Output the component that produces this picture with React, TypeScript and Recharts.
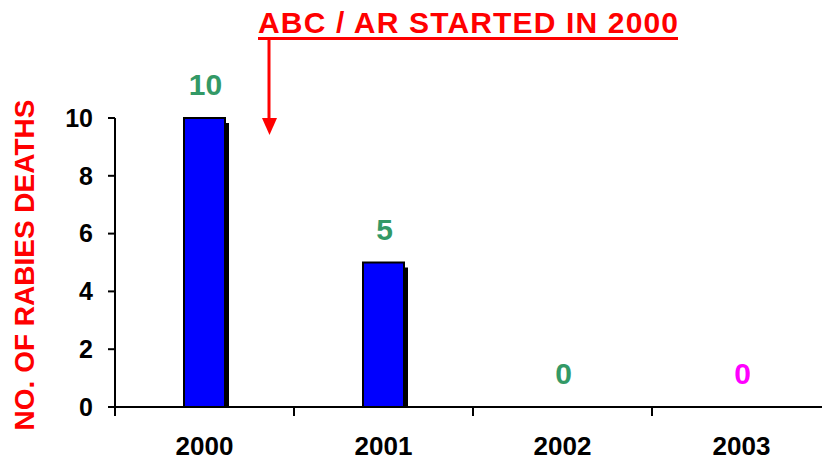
import { BarChart, Bar, XAxis, YAxis, LabelList } from "recharts";

const years = ["2000", "2001", "2002", "2003"];
const deaths = [10, 5, 0, 0];
const yTicks = [0, 2, 4, 6, 8, 10];
const labelColors = ["#339966", "#339966", "#339966", "#ff00ff"];

const data = years.map((y, i) => ({ year: y, deaths: deaths[i] }));

const FONT = "'Liberation Sans', Arial, sans-serif";
const CHART_W = 840;
const CHART_H = 464;
const MARGIN = { top: 118, right: 9, left: 0, bottom: 27 };
const Y_AXIS_W = 115;
const BAND = (CHART_W - MARGIN.left - MARGIN.right - Y_AXIS_W) / years.length;

function ShadowBar(props: any) {
  const { x, y, width, height } = props;
  if (!height || height <= 0) return null;
  return (
    <g>
      <rect x={x + 4} y={y + 5} width={width} height={height - 5} fill="#000" />
      <rect x={x} y={y} width={width} height={height} fill="#0000ff" stroke="#000" strokeWidth={2} />
    </g>
  );
}

function XTick({ x, y, payload }: any) {
  const left = x - BAND / 2;
  return (
    <g>
      <line x1={left} y1={y} x2={left} y2={y + 9} stroke="#000" strokeWidth={2} />
      <text x={x} y={y + 48} textAnchor="middle" fontFamily={FONT} fontWeight="bold" fontSize={26} fill="#000">
        {payload.value}
      </text>
    </g>
  );
}

function ValueLabel({ x, y, width, value, index }: any) {
  return (
    <text
      x={x + width / 2 + 1}
      y={y - 23}
      textAnchor="middle"
      fontFamily={FONT}
      fontWeight="bold"
      fontSize={30}
      fill={labelColors[index]}
    >
      {value}
    </text>
  );
}

export default function App() {
  return (
    <div style={{ position: "absolute", left: 0, top: 0, width: 822, height: 464, overflow: "hidden", background: "#fff" }}>
      <BarChart width={CHART_W} height={CHART_H} data={data} margin={MARGIN} barSize={41}>
        <XAxis
          dataKey="year"
          height={30}
          axisLine={{ stroke: "#000", strokeWidth: 2 }}
          tickLine={false}
          tickSize={0}
          tickMargin={0}
          tick={<XTick />}
          interval={0}
        />
        <YAxis
          width={Y_AXIS_W}
          domain={[0, 10]}
          ticks={yTicks}
          interval={0}
          axisLine={{ stroke: "#000", strokeWidth: 2 }}
          tickLine={{ stroke: "#000", strokeWidth: 2 }}
          tickSize={7}
          tickMargin={15}
          tick={{ fill: "#000", fontFamily: FONT, fontWeight: "bold", fontSize: 25 }}
        />
        <Bar dataKey="deaths" shape={<ShadowBar />} isAnimationActive={false}>
          <LabelList dataKey="deaths" content={<ValueLabel />} />
        </Bar>
      </BarChart>
      <svg width={822} height={464} style={{ position: "absolute", left: 0, top: 0, pointerEvents: "none" }}>
        <text x={258} y={33} fontFamily={FONT} fontWeight="bold" fontSize={30} fill="#ff0000" textLength={420}>
          ABC / AR STARTED IN 2000
        </text>
        <rect x={258} y={37} width={420} height={3} fill="#ff0000" />
        <line x1={269} y1={40} x2={269} y2={120} stroke="#ff0000" strokeWidth={3} />
        <polygon points="262,118 277,118 269.5,135" fill="#ff0000" />
        <text
          x={24}
          y={265}
          transform="rotate(-90 24 265)"
          textAnchor="middle"
          dominantBaseline="central"
          fontFamily={FONT}
          fontWeight="bold"
          fontSize={28}
          fill="#ff0000"
        >
          NO. OF RABIES DEATHS
        </text>
      </svg>
    </div>
  );
}
